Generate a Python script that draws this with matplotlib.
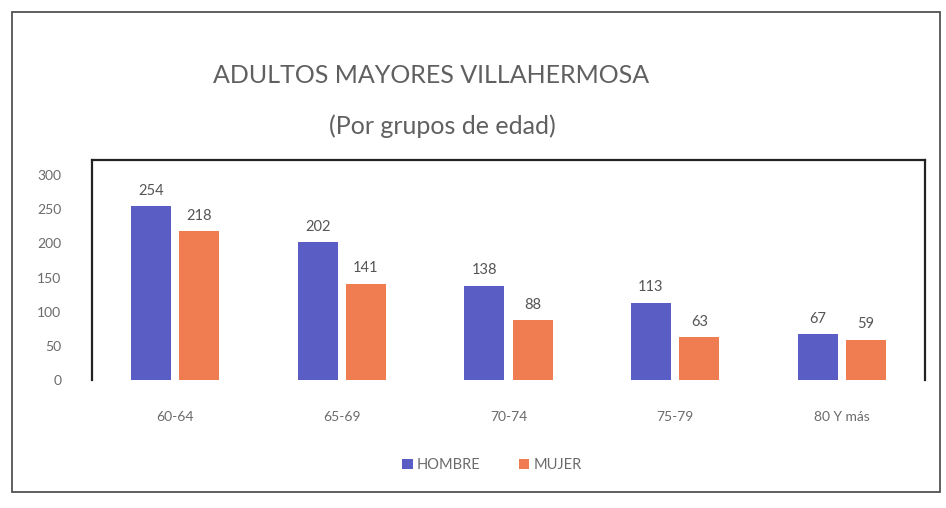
import numpy as np
import matplotlib
matplotlib.use('Agg')
import matplotlib.pyplot as plt
from matplotlib.patches import Rectangle

grupos = ['60-64', '65-69', '70-74', '75-79', '80 Y más']
hombre = [254, 202, 138, 113, 67]
mujer = [218, 141, 88, 63, 59]

azul = '#5A5EC4'
naranja = '#F07C52'
gris = '#6b6b6b'

plt.rcParams['font.family'] = ['Lato', 'DejaVu Sans']

fig = plt.figure(figsize=(9.46, 5.08), dpi=100)
ax = fig.add_axes([0.097, 0.252, 0.881, 0.433])

x = np.arange(len(grupos))
w = 0.24
b1 = ax.bar(x - w / 2 - 0.025, hombre, w, color=azul, label='HOMBRE')
b2 = ax.bar(x + w / 2 + 0.025, mujer, w, color=naranja, label='MUJER')

for bars in (b1, b2):
    for r in bars:
        ax.annotate(str(int(r.get_height())),
                    (r.get_x() + r.get_width() / 2, r.get_height()),
                    xytext=(0, 6), textcoords='offset points',
                    ha='center', va='bottom', fontsize=10.5, color='#555555')

ax.set_xlim(-0.5, 4.5)
ax.set_ylim(0, 322)
ax.set_yticks(range(0, 301, 50))
ax.set_xticks(x)
ax.set_xticklabels(grupos)
ax.tick_params(axis='y', length=0, pad=22, labelsize=10, labelcolor=gris)
ax.tick_params(axis='x', length=0, pad=22, labelsize=10, labelcolor=gris)
for s in ('left', 'top', 'right'):
    ax.spines[s].set_color('#222222')
    ax.spines[s].set_linewidth(1.6)
ax.spines['bottom'].set_visible(False)

fig.text(0.456, 0.852, 'ADULTOS MAYORES VILLAHERMOSA', ha='center', va='center',
         fontsize=18, color='#606060')
fig.text(0.468, 0.752, '(Por grupos de edad)', ha='center', va='center',
         fontsize=18, color='#606060')

fig.legend(loc='center', bbox_to_anchor=(0.52, 0.085), ncol=2, frameon=False,
           fontsize=10.5, handlelength=0.7, handleheight=0.7, handletextpad=0.3,
           columnspacing=2.6, labelcolor=gris)

fig.patches.append(Rectangle((12 / 946, 1 - 492 / 508), 928 / 946, 480 / 508,
                             transform=fig.transFigure, fill=False,
                             edgecolor='#444444', linewidth=1.2))

fig.savefig('out.png', dpi=100, facecolor='white')
plt.close()
